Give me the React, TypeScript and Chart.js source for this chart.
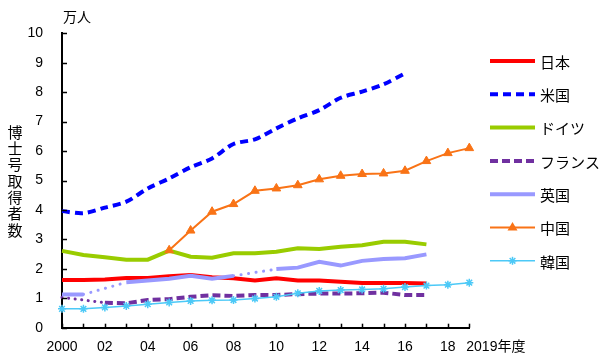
import React, { useEffect, useRef } from 'react';
import { Chart, registerables } from 'chart.js';

Chart.register(...registerables);

const years = ['2000','2001','2002','2003','2004','2005','2006','2007','2008','2009','2010','2011','2012','2013','2014','2015','2016','2017','2018','2019'];
const yTicks = [0, 1, 2, 3, 4, 5, 6, 7, 8, 9, 10];

const japan = [1.62,1.62,1.64,1.69,1.69,1.75,1.79,1.71,1.68,1.60,1.68,1.60,1.60,1.56,1.52,1.52,1.52,1.50,null,null];
const usa = [3.96,3.89,4.08,4.28,4.73,5.07,5.45,5.75,6.24,6.40,6.77,7.11,7.39,7.81,8.02,8.27,8.64,null,null,null];
const germany = [2.61,2.47,2.39,2.31,2.31,2.62,2.41,2.38,2.53,2.53,2.58,2.70,2.67,2.75,2.80,2.92,2.92,2.83,null,null];
const france = [1.03,null,0.85,0.83,0.94,0.97,1.05,1.10,1.08,1.11,1.11,1.14,1.16,1.16,1.17,1.19,1.11,1.11,null,null];
const uk = [1.13,1.13,null,1.54,1.60,1.66,1.76,1.66,1.76,null,1.99,2.04,2.24,2.11,2.27,2.33,2.36,2.49,null,null];
const china = [null,null,null,null,null,2.63,3.30,3.94,4.20,4.65,4.73,4.84,5.04,5.16,5.22,5.24,5.33,5.66,5.93,6.10];
const korea = [0.64,0.64,0.69,0.74,0.80,0.86,0.91,0.93,0.94,0.99,1.05,1.17,1.25,1.28,1.30,1.32,1.38,1.43,1.46,1.53];

const seriesNames = ['日本', '米国', 'ドイツ', 'フランス', '英国', '中国', '韓国'];
const unitLabel = '万人';
const axisTitle = '博士号取得者数';
const lastYearLabel = '2019年度';

const CJK = "'Noto Sans CJK JP', sans-serif";
const NUM = "'Liberation Sans', 'Noto Sans CJK JP', sans-serif";

const gapped = (c: any) => c.p0.skip || c.p1.skip;

const extrasPlugin = {
  id: 'extras',
  afterDraw(chart: any) {
    const ctx = chart.ctx;
    const area = chart.chartArea;
    const xs = chart.scales.x;
    const ys = chart.scales.y;
    ctx.save();
    // inward ticks
    ctx.strokeStyle = '#000';
    ctx.lineWidth = 1.5;
    yTicks.forEach((v) => {
      const y = Math.round(ys.getPixelForValue(v)) + 0.5;
      ctx.beginPath();
      ctx.moveTo(area.left, y);
      ctx.lineTo(area.left + 5, y);
      ctx.stroke();
    });
    years.forEach((_, i) => {
      const x = Math.round(xs.getPixelForValue(i)) + 0.5;
      ctx.beginPath();
      ctx.moveTo(x, area.bottom);
      ctx.lineTo(x, area.bottom - 4);
      ctx.stroke();
    });
    // texts
    ctx.fillStyle = '#000';
    ctx.textBaseline = 'middle';
    ctx.textAlign = 'left';
    ctx.font = `14px ${CJK}`;
    ctx.fillText(unitLabel, 63, 17);
    ctx.font = `14px ${NUM}`;
    ctx.fillText(lastYearLabel, xs.getPixelForValue(years.length - 1) - 3, 347);
    ctx.font = `15px ${CJK}`;
    ctx.textAlign = 'center';
    Array.from(axisTitle).forEach((ch, i) => {
      ctx.fillText(ch, 15, 132 + i * 16.3);
    });
    // legend
    const ds = chart.data.datasets;
    ds.forEach((d: any, i: number) => {
      const y = 61 + i * 33.3;
      ctx.save();
      ctx.strokeStyle = d.borderColor;
      ctx.lineWidth = d.borderWidth;
      ctx.setLineDash(d.borderDash || []);
      ctx.beginPath();
      ctx.moveTo(490, y);
      ctx.lineTo(535, y);
      ctx.stroke();
      ctx.restore();
      if (d.pointStyle === 'triangle') {
        const r = d.pointRadius;
        ctx.fillStyle = d.pointBackgroundColor;
        ctx.beginPath();
        ctx.moveTo(512.5, y - r * 1.1);
        ctx.lineTo(512.5 + r, y + r * 0.6);
        ctx.lineTo(512.5 - r, y + r * 0.6);
        ctx.closePath();
        ctx.fill();
      } else if (d.pointStyle === 'star') {
        const r = d.pointRadius;
        ctx.strokeStyle = d.pointBorderColor;
        ctx.lineWidth = 1.5;
        for (let k = 0; k < 4; k++) {
          const a = (k * Math.PI) / 4;
          ctx.beginPath();
          ctx.moveTo(512.5 - r * Math.cos(a), y - r * Math.sin(a));
          ctx.lineTo(512.5 + r * Math.cos(a), y + r * Math.sin(a));
          ctx.stroke();
        }
      }
      ctx.fillStyle = '#000';
      ctx.textAlign = 'left';
      ctx.font = `15px ${CJK}`;
      ctx.fillText(seriesNames[i], 540, y + 1);
    });
    ctx.restore();
  },
};

export default function App() {
  const ref = useRef<HTMLCanvasElement | null>(null);
  useEffect(() => {
    document.body.style.margin = '0';
    const canvas = ref.current;
    if (!canvas) return;
    const chart = new Chart(canvas, {
      type: 'line',
      data: {
        labels: years,
        datasets: [
          { label: seriesNames[0], data: japan, borderColor: '#ff0000', borderWidth: 4, pointRadius: 0, order: 6 },
          { label: seriesNames[1], data: usa, borderColor: '#0000ff', borderWidth: 4, borderDash: [8, 5], pointRadius: 0, tension: 0.3, order: 5 },
          { label: seriesNames[2], data: germany, borderColor: '#99cc00', borderWidth: 4, pointRadius: 0, order: 4 },
          {
            label: seriesNames[3], data: france, borderColor: '#7030a0', borderWidth: 4, borderDash: [8, 4], pointRadius: 0, order: 3,
            spanGaps: true,
            segment: {
              borderDash: (c: any) => (gapped(c) ? [0.1, 6.5] : undefined),
              borderWidth: (c: any) => (gapped(c) ? 3 : undefined),
              borderCapStyle: (c: any) => (gapped(c) ? 'round' : undefined),
            },
          },
          {
            label: seriesNames[4], data: uk, borderColor: '#9999ff', borderWidth: 4, pointRadius: 0, order: 2,
            spanGaps: true,
            segment: {
              borderDash: (c: any) => (gapped(c) ? [0.1, 7.5] : undefined),
              borderWidth: (c: any) => (gapped(c) ? 3 : undefined),
              borderCapStyle: (c: any) => (gapped(c) ? 'round' : undefined),
            },
          },
          {
            label: seriesNames[5], data: china, borderColor: '#f97316', borderWidth: 2, pointStyle: 'triangle', pointRadius: 5,
            pointBackgroundColor: '#f97316', pointBorderColor: '#f97316', pointBorderWidth: 1, order: 1,
          },
          {
            label: seriesNames[6], data: korea, borderColor: '#4cc9f7', borderWidth: 1.5, pointStyle: 'star', pointRadius: 4,
            pointBackgroundColor: '#4cc9f7', pointBorderColor: '#4cc9f7', pointBorderWidth: 1.5, order: 0,
          },
        ],
      },
      options: {
        responsive: false,
        animation: false,
        devicePixelRatio: 1,
        layout: { padding: { left: 0, right: 130.7, top: 33.3, bottom: 0 } },
        plugins: { legend: { display: false }, tooltip: { enabled: false } },
        scales: {
          x: {
            offset: false,
            grid: { display: false, drawTicks: false },
            border: { display: true, color: '#000', width: 2 },
            ticks: {
              autoSkip: false,
              maxRotation: 0,
              padding: 11,
              color: '#000',
              font: { family: NUM, size: 14 },
              callback: (_v: any, i: number) => {
                const y = 2000 + i;
                if (y === 2019 || i % 2 === 1) return '';
                return y === 2000 ? '2000' : String(y % 100).padStart(2, '0');
              },
            },
            afterFit: (s: any) => { s.height = 31.3; },
          },
          y: {
            min: 0,
            max: 10,
            grid: { display: false, drawTicks: false },
            border: { display: true, color: '#000', width: 2 },
            ticks: {
              stepSize: 1,
              padding: 19,
              color: '#000',
              font: { family: NUM, size: 14 },
            },
            afterFit: (s: any) => { s.width = 62; },
          },
        },
      },
      plugins: [extrasPlugin],
    } as any);
    return () => chart.destroy();
  }, []);
  return (
    <div style={{ width: 600, height: 359, background: '#fff' }}>
      <canvas ref={ref} width={600} height={359} style={{ display: 'block' }} />
    </div>
  );
}
